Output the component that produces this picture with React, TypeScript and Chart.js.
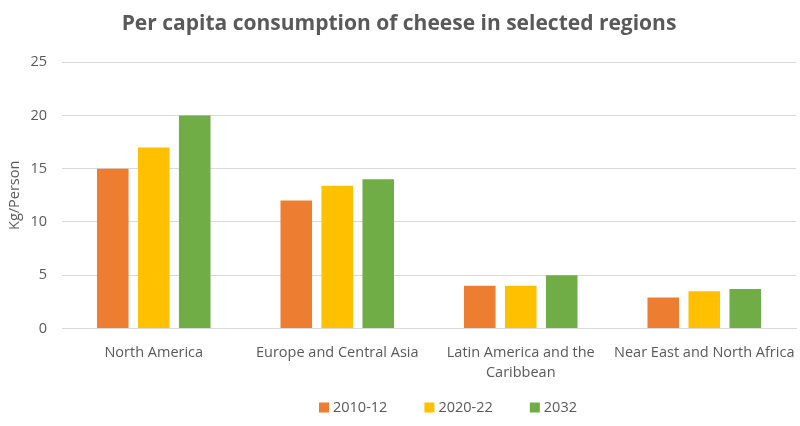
import React, { useEffect, useRef } from "react";
import { Chart, registerables } from "chart.js";

Chart.register(...registerables);

const categories: (string | string[])[] = [
  "North America",
  "Europe and Central Asia",
  ["Latin America and the", "Caribbean"],
  "Near East and North Africa",
];
const series2010 = [15, 12, 4, 2.9];
const series2020 = [17, 13.4, 4, 3.5];
const series2032 = [20, 14, 5, 3.7];
const seriesNames = ["2010-12", "2020-22", "2032"];
const colors = ["#ED7D31", "#FFC000", "#70AD47"];

const FONT = "'Open Sans', 'Liberation Sans', sans-serif";

const legendPlugin = {
  id: "customLegend",
  afterDraw(chart: any) {
    const ctx = chart.ctx as CanvasRenderingContext2D;
    ctx.save();
    ctx.font = `14.5px ${FONT}`;
    ctx.textBaseline = "middle";
    let x = 319;
    const y = 407.5;
    chart.data.datasets.forEach((ds: any) => {
      ctx.fillStyle = ds.backgroundColor;
      ctx.fillRect(x, y - 5, 10, 10);
      ctx.fillStyle = "#595959";
      ctx.fillText(ds.label, x + 14, y);
      x += 14 + ctx.measureText(ds.label).width + 37;
    });
    ctx.restore();
  },
};

export default function App() {
  const ref = useRef<HTMLCanvasElement | null>(null);
  useEffect(() => {
    document.body.style.margin = "0";
    if (!ref.current) return;
    const chart = new Chart(ref.current, {
      type: "bar",
      data: {
        labels: categories,
        datasets: [series2010, series2020, series2032].map((d, i) => ({
          label: seriesNames[i],
          data: d,
          backgroundColor: colors[i],
          borderWidth: 0,
          categoryPercentage: 0.67,
          barPercentage: 0.77,
        })),
      },
      options: {
        animation: false,
        responsive: false,
        maintainAspectRatio: false,
        layout: { padding: { top: 10, right: 4, left: 2, bottom: 29 } },
        plugins: {
          title: {
            display: true,
            text: "Per capita consumption of cheese in selected regions",
            color: "#595959",
            font: { family: FONT, size: 21, weight: "bold" },
            padding: { top: 1, bottom: 26 },
          },
          legend: { display: false },
          tooltip: { enabled: false },
        },
        scales: {
          x: {
            grid: { display: false, drawTicks: false },
            border: { color: "#d9d9d9" },
            ticks: {
              color: "#595959",
              font: { family: FONT, size: 14.5, lineHeight: 1.4 },
              maxRotation: 0,
              autoSkip: false,
              padding: 14,
            },
            afterFit: (scale: any) => {
              scale.paddingLeft = 0;
              scale.paddingRight = 0;
            },
          },
          y: {
            min: 0,
            max: 25,
            ticks: {
              stepSize: 5,
              color: "#595959",
              font: { family: FONT, size: 14.5 },
              padding: 15,
            },
            grid: { color: "#d9d9d9", drawTicks: false },
            border: { display: false },
            title: {
              display: true,
              text: "Kg/Person",
              color: "#595959",
              font: { family: FONT, size: 14.5 },
            },
            afterFit: (scale: any) => {
              scale.width = 60;
            },
          },
        },
      },
      plugins: [legendPlugin],
    });
    return () => chart.destroy();
  }, []);
  return (
    <div style={{ width: 800, height: 426 }}>
      <canvas ref={ref} width={800} height={426} />
    </div>
  );
}
